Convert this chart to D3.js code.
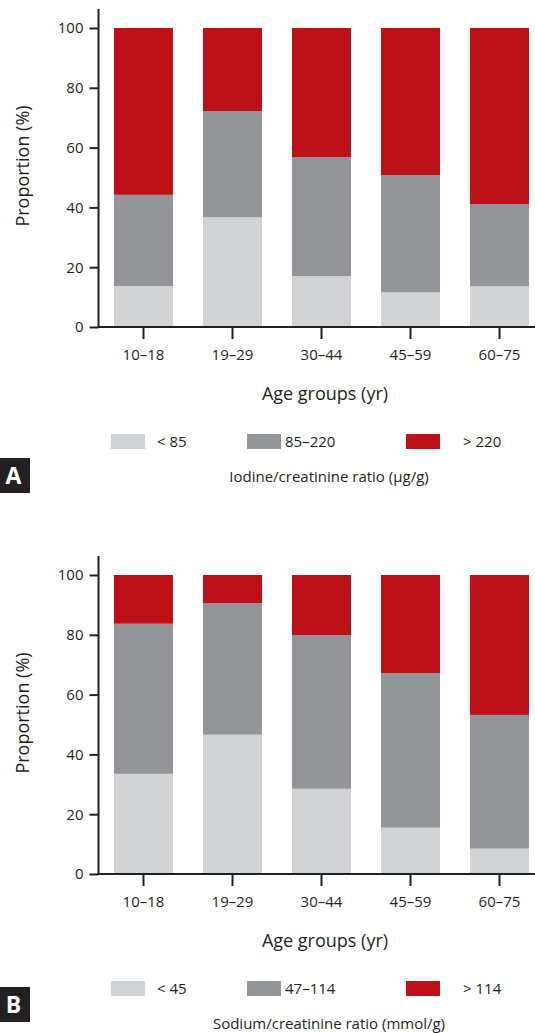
<!DOCTYPE html>
<html>
<head>
<meta charset="utf-8">
<script src="https://cdn.jsdelivr.net/npm/d3@7"></script>
<style>
  html, body { margin: 0; padding: 0; background: #fff; }
  svg { display: block; font-family: "Open Sans", "Noto Sans", sans-serif; }
</style>
</head>
<body>
<svg id="chart" width="535" height="1033"></svg>
<script>
// Age groups shared by both panels
const ageGroups = ["10–18", "19–29", "30–44", "45–59", "60–75"];

// Panel A: iodine/creatinine ratio categories (% of each age group)
const iodineLow  = [13.7, 36.7, 17.0, 11.6, 13.6];
const iodineMid  = [30.5, 35.5, 39.8, 39.2, 27.5];
const iodineHigh = [55.8, 27.8, 43.2, 49.2, 58.9];
const iodineLegend = ["< 85", "85–220", "> 220"];

// Panel B: sodium/creatinine ratio categories (% of each age group)
const sodiumLow  = [33.5, 46.6, 28.5, 15.5, 8.5];
const sodiumMid  = [50.2, 44.0, 51.4, 51.7, 44.7];
const sodiumHigh = [16.3, 9.4, 20.1, 32.8, 46.8];
const sodiumLegend = ["< 45", "47–114", "> 114"];

const yTicks = [0, 20, 40, 60, 80, 100];

const colors = ["#d1d2d4", "#939598", "#be1019"];
const ink = "#231f20";
const keys = ["low", "mid", "high"];

const svg = d3.select("#chart");

function drawPanel(opts) {
  const { top, low, mid, high, legend, title, letter, letterTop } = opts;
  const rows = ageGroups.map((g, i) => ({ group: g, low: low[i], mid: mid[i], high: high[i] }));
  const series = d3.stack().keys(keys)(rows);

  const g = svg.append("g").attr("transform", `translate(0,${top})`);

  const axisX = 98.5;
  const y0 = 299;   // baseline of the bars within the panel
  const y = d3.scaleLinear().domain([0, 100]).range([y0, y0 - 299]);
  const x = d3.scaleBand().domain(ageGroups).range([99, 544])
    .paddingInner(0.337).paddingOuter(0.337 / 2);

  // stacked bars
  g.append("g").selectAll("g").data(series).join("g")
    .attr("fill", (d, i) => colors[i])
    .selectAll("rect").data(d => d).join("rect")
      .attr("x", d => x(d.data.group))
      .attr("width", x.bandwidth())
      .attr("y", d => y(d[1]))
      .attr("height", d => y(d[0]) - y(d[1]));

  // y axis
  const yAxis = g.append("g").attr("transform", `translate(${axisX},0)`)
    .call(d3.axisLeft(y).tickValues(yTicks).tickSize(9).tickPadding(6));
  yAxis.select(".domain").remove();
  yAxis.selectAll(".tick line").attr("stroke", ink).attr("stroke-width", 2);
  yAxis.selectAll(".tick text").attr("fill", ink).attr("font-size", 15)
    .attr("font-family", "'Open Sans', sans-serif");
  g.append("line").attr("x1", axisX).attr("x2", axisX)
    .attr("y1", y(100) - 19).attr("y2", y0 + 1)
    .attr("stroke", ink).attr("stroke-width", 2);

  // x axis
  const xAxis = g.append("g").attr("transform", `translate(0,${y0})`)
    .call(d3.axisBottom(x).tickSize(12).tickPadding(10));
  xAxis.select(".domain").remove();
  xAxis.selectAll(".tick line").attr("stroke", ink).attr("stroke-width", 2);
  xAxis.selectAll(".tick text").attr("fill", ink).attr("font-size", 15)
    .attr("font-family", "'Open Sans', sans-serif");
  g.append("line").attr("x1", axisX - 1).attr("x2", 535)
    .attr("y1", y0).attr("y2", y0)
    .attr("stroke", ink).attr("stroke-width", 2);

  // axis titles
  g.append("text")
    .attr("transform", `translate(29,${y0 - 161}) rotate(-90)`)
    .attr("text-anchor", "middle").attr("font-size", 18).attr("fill", ink)
    .text("Proportion (%)");
  g.append("text")
    .attr("x", 325).attr("y", y0 + 73)
    .attr("text-anchor", "middle").attr("font-size", 18).attr("fill", ink)
    .text("Age groups (yr)");

  // legend
  const swatchX = [111, 247, 406];
  const labelX = [157, 285, 463];
  const leg = g.append("g").attr("transform", `translate(0,${y0 + 107})`);
  legend.forEach((label, i) => {
    leg.append("rect").attr("x", swatchX[i]).attr("y", 0)
      .attr("width", 34).attr("height", 15).attr("fill", colors[i]);
    leg.append("text").attr("x", labelX[i]).attr("y", 12.5)
      .attr("font-size", 15).attr("fill", ink).text(label);
  });
  g.append("text")
    .attr("x", 329).attr("y", y0 + 155)
    .attr("text-anchor", "middle").attr("font-size", 15).attr("fill", ink)
    .text(title);

  // panel letter
  svg.append("rect").attr("x", 0).attr("y", letterTop)
    .attr("width", 30).attr("height", 35).attr("fill", "#231f20");
  svg.append("text").attr("x", 13.5).attr("y", letterTop + 26)
    .attr("text-anchor", "middle").attr("font-size", 23).attr("font-weight", "bold")
    .attr("fill", "#fff").text(letter);
}

drawPanel({
  top: 28, low: iodineLow, mid: iodineMid, high: iodineHigh,
  legend: iodineLegend, title: "Iodine/creatinine ratio (μg/g)",
  letter: "A", letterTop: 458
});

drawPanel({
  top: 575, low: sodiumLow, mid: sodiumMid, high: sodiumHigh,
  legend: sodiumLegend, title: "Sodium/creatinine ratio (mmol/g)",
  letter: "B", letterTop: 987
});
</script>
</body>
</html>
